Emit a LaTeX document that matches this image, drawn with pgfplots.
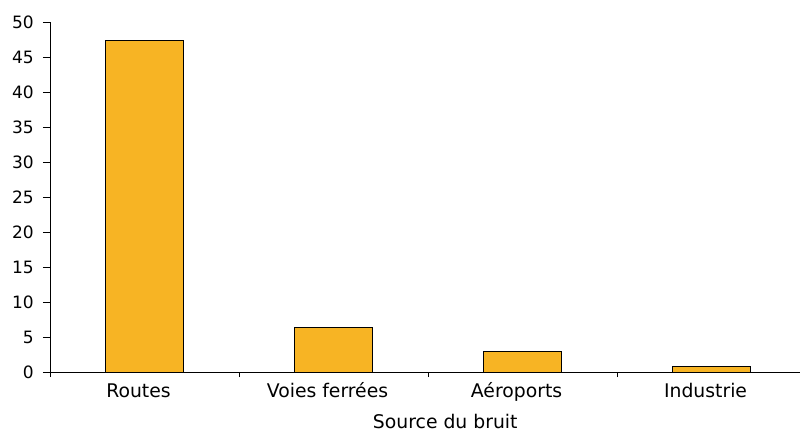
\documentclass[border=0pt]{standalone}
\usepackage{pgfplots}
\pgfplotsset{compat=1.18}
\usepackage{fontspec}
\setmainfont{DejaVu Sans}
\definecolor{barfill}{HTML}{F7B424}
\begin{document}
\fontsize{17bp}{20bp}\selectfont
\begin{tikzpicture}
\begin{axis}[
  name=ax,
  at={(0,0)}, anchor=south west,
  scale only axis,
  width=750bp, height=350bp,
  xmin=-0.5, xmax=3.468,
  ymin=0, ymax=50,
  axis x line*=bottom,
  axis y line*=left,
  axis line style={black, line width=0.8bp},
  ytick={0,5,...,50},
  xtick={0,1,2,3},
  xticklabels={Routes, Voies ferrées, Aéroports, Industrie},
  minor xtick={-0.5,0.5,1.5,2.5},
  major x tick style={draw=none},
  minor x tick style={black, line width=0.8bp},
  y tick style={black, line width=0.8bp},
  tick align=outside,
  major tick length=7bp,
  minor tick length=5bp,
  /pgf/number format/assume math mode=true,
  yticklabel style={anchor=east, inner sep=0pt, xshift=-9bp, font=\fontsize{17bp}{20bp}\selectfont},
  xticklabel style={anchor=base, inner sep=0pt, yshift=-18bp, xshift=-6bp, font=\fontsize{18.8bp}{22bp}\selectfont},
  xlabel={Source du bruit},
  xlabel style={at={(rel axis cs:0.527,0)}, anchor=base, inner sep=0pt, yshift=-56bp, font=\fontsize{18.8bp}{22bp}\selectfont},
  ybar,
  bar width=0.41,
  clip=false,
]
\addplot[fill=barfill, draw=black, line width=0.6bp] coordinates {(0,47.4) (1,6.4) (2,2.9) (3,0.85)};
\end{axis}
\pgfresetboundingbox
\path[use as bounding box] (-50bp,-59bp) rectangle (750bp,372bp);
\end{tikzpicture}
\end{document}
